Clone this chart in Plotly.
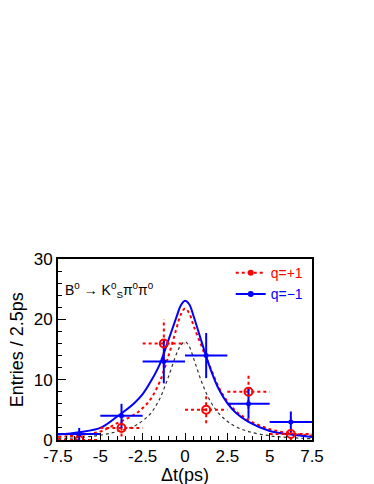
import plotly.graph_objects as go

# ---- data ----
bin_centers = [-6.25, -3.75, -1.25, 1.25, 3.75, 6.25]
bin_halfwidth = [1.25, 1.25, 1.25, 1.25, 1.25, 1.25]
qplus_counts = [0, 2, 16, 5, 8, 1]
qplus_err = [0.0, 1.41, 4.0, 2.24, 2.83, 1.0]
qminus_counts = [1, 4, 13, 14, 6, 3]
qminus_err = [1.0, 2.0, 3.61, 3.74, 2.45, 1.73]

curve_x = [-7.5, -6.25, -5, -4, -3, -2.5, -2, -1.5, -1, -0.5, -0.25, 0,
           0.25, 0.5, 1, 1.5, 2, 2.5, 3, 3.75, 5, 6.25, 7.5]
qminus_fit = [0.9, 1.3, 2.0, 3.9, 6.1, 7.6, 9.8, 12.5, 16.4, 20.4, 22.3, 23.1,
              22.5, 20.6, 16.1, 11.8, 8.4, 6.1, 4.5, 3.0, 1.5, 0.9, 0.5]
qplus_fit = [0.5, 0.8, 1.4, 2.8, 4.2, 5.3, 6.9, 9.6, 13.7, 18.5, 20.8, 21.8,
             21.0, 19.0, 15.4, 12.0, 8.7, 6.4, 4.8, 3.3, 1.8, 1.1, 0.7]
signal_fit = [0.2, 0.4, 0.8, 1.4, 2.3, 3.2, 4.5, 6.8, 10.3, 14.3, 15.7, 16.3,
              15.5, 13.6, 9.5, 6.4, 4.4, 3.1, 2.2, 1.4, 0.7, 0.4, 0.2]

x_ticks = [-7.5, -5, -2.5, 0, 2.5, 5, 7.5]
x_ticklabels = ["-7.5", "-5", "-2.5", "0", "2.5", "5", "7.5"]
y_ticks = [0, 10, 20, 30]

RED = "#ff0000"
BLUE = "#0000ff"
FONT = "Liberation Sans, Arial, Helvetica, sans-serif"


def errbar_segments(xc, hw, y, err):
    xs, ys = [], []
    for a, h, b, e in zip(xc, hw, y, err):
        xs += [a - h, a + h, None]
        ys += [b, b, None]
        if e > 0:
            xs += [a, a, None]
            ys += [b - e, b + e, None]
    return xs, ys


fig = go.Figure()

# fit curves
fig.add_trace(go.Scatter(x=curve_x, y=signal_fit, mode="lines", line_shape="spline",
                         line=dict(color="#333333", width=1.2, dash="dot"),
                         showlegend=False))
fig.add_trace(go.Scatter(x=curve_x, y=qplus_fit, mode="lines", line_shape="spline",
                         line=dict(color=RED, width=2, dash="dot"),
                         showlegend=False))
fig.add_trace(go.Scatter(x=curve_x, y=qminus_fit, mode="lines", line_shape="spline",
                         line=dict(color=BLUE, width=2),
                         showlegend=False))

# error bars
ex, ey = errbar_segments(bin_centers, bin_halfwidth, qplus_counts, qplus_err)
fig.add_trace(go.Scatter(x=ex, y=ey, mode="lines",
                         line=dict(color=RED, width=2, dash="dot"),
                         showlegend=False))
ex, ey = errbar_segments(bin_centers, bin_halfwidth, qminus_counts, qminus_err)
fig.add_trace(go.Scatter(x=ex, y=ey, mode="lines",
                         line=dict(color=BLUE, width=2),
                         showlegend=False))

# markers
fig.add_trace(go.Scatter(x=bin_centers, y=qplus_counts, mode="markers",
                         marker=dict(symbol="circle-open", size=8, color=RED,
                                     line=dict(width=2, color=RED)),
                         showlegend=False))
fig.add_trace(go.Scatter(x=bin_centers, y=qminus_counts, mode="markers",
                         marker=dict(symbol="circle", size=5, color=BLUE),
                         showlegend=False))

# legend entries
fig.add_trace(go.Scatter(x=[None], y=[None], mode="lines+markers",
                         name="<span style='color:#ff0000'>q=+1</span>",
                         line=dict(color=RED, width=2, dash="dot"),
                         marker=dict(symbol="circle", size=6, color=RED)))
fig.add_trace(go.Scatter(x=[None], y=[None], mode="lines+markers",
                         name="<span style='color:#0000ff'>q=\u22121</span>",
                         line=dict(color=BLUE, width=2),
                         marker=dict(symbol="circle", size=6, color=BLUE)))

fig.update_layout(
    width=366, height=476,
    margin=dict(l=50, r=62, t=251, b=44),
    paper_bgcolor="white", plot_bgcolor="white",
    font=dict(family=FONT, color="black", size=17),
    showlegend=True,
    legend=dict(x=0.68, y=1.01, xanchor="left", yanchor="top",
                bgcolor="rgba(0,0,0,0)", font=dict(size=14, family=FONT),
                tracegroupgap=0, itemwidth=30),
    xaxis=dict(range=[-7.5, 7.5], tickvals=x_ticks, ticktext=x_ticklabels,
               ticks="inside", ticklen=7, tickwidth=1, tickcolor="black",
               minor=dict(dtick=0.5, tick0=0, ticks="inside", ticklen=4,
                          tickcolor="black"),
               showgrid=False, zeroline=False, automargin=False,
               showline=True, linecolor="black", linewidth=2, mirror=True,
               tickfont=dict(size=17, family=FONT)),
    yaxis=dict(range=[0, 30], tickvals=y_ticks,
               ticks="inside", ticklen=8, tickwidth=1, tickcolor="black",
               minor=dict(dtick=2, tick0=0, ticks="inside", ticklen=4,
                          tickcolor="black"),
               showgrid=False, zeroline=False, automargin=False,
               showline=True, linecolor="black", linewidth=2, mirror=True,
               tickfont=dict(size=17, family=FONT)),
    annotations=[
        dict(text="B<sup>0</sup> \u2192 K<sup>0</sup><sub>S</sub>\u03c0<sup>0</sup>\u03c0<sup>0</sup>",
             xref="paper", yref="paper", x=0.02, y=0.83, xanchor="left", yanchor="middle",
             showarrow=False, font=dict(size=14, family=FONT, color="black")),
        dict(text="\u0394t(ps)", xref="paper", yref="paper", x=0.5, y=-0.192,
             xanchor="center", yanchor="middle", showarrow=False,
             font=dict(size=18, family=FONT, color="black")),
        dict(text="Entries / 2.5ps", xref="paper", yref="paper", x=-0.162, y=0.5,
             xanchor="center", yanchor="middle", textangle=-90, showarrow=False,
             font=dict(size=18, family=FONT, color="black")),
    ],
)

fig.write_html("out.html")
